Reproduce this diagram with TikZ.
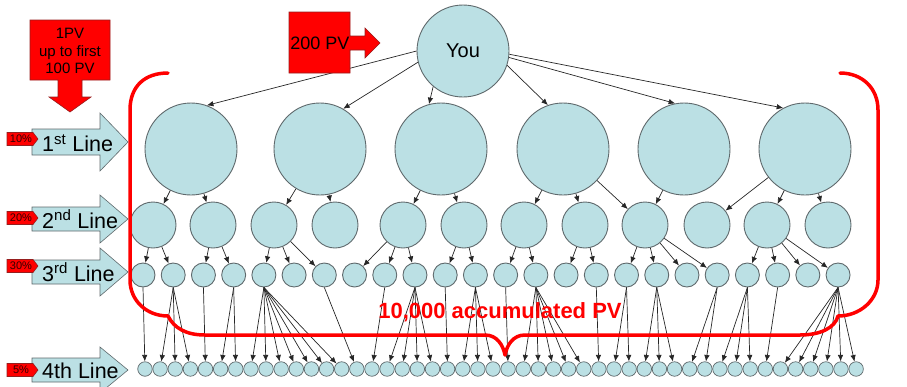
\documentclass[tikz,border=0pt]{standalone}
\usepackage{fontspec}
\setmainfont{Liberation Sans}
\usetikzlibrary{arrows.meta}
\definecolor{nodefill}{RGB}{187,224,228}
\definecolor{nodeline}{RGB}{95,105,108}
\definecolor{pvred}{RGB}{255,0,0}
\definecolor{calloutline}{RGB}{150,30,30}

% level label arrow: #1 centre y, #2 half height of head, #3 half height of shaft
\newcommand{\lvlarrow}[3]{%
  \filldraw[levelarrow] (32,{#1-#3}) -- (100,{#1-#3}) -- (100,{#1-#2}) -- (128,#1)
    -- (100,{#1+#2}) -- (100,{#1+#3}) -- (32,{#1+#3}) -- cycle;}
% small red percentage tag: #1 centre y
\newcommand{\pcttag}[1]{%
  \filldraw[redshape] (7,{#1-6.5}) -- (33,{#1-6.5}) -- (38,#1) -- (33,{#1+6.5}) -- (7,{#1+6.5}) -- cycle;}

\begin{document}
\begin{tikzpicture}[x=1pt,y=-1pt,
  member/.style={circle, fill=nodefill, draw=nodeline, line width=0.9pt, inner sep=0pt},
  conn/.style={draw=black!85, line width=0.7pt, -{Latex[length=6.5pt,width=5.5pt]}},
  levelarrow/.style={fill=nodefill, draw=nodeline, line width=0.6pt},
  redshape/.style={fill=pvred, draw=calloutline, line width=0.6pt},
  brace/.style={draw=pvred, line width=3.5pt, line cap=round, line join=round},
  linetext/.style={anchor=west, inner sep=0pt, font=\fontsize{21.5}{24}\selectfont},
  pcttext/.style={inner sep=0pt, text=black!80!red, font=\fontsize{11}{12}\selectfont}]

\useasboundingbox (0,0) rectangle (907,386);

% ---------- the members ----------
\node[member, minimum size=92pt] (you) at (463,51) {\fontsize{20}{24}\selectfont You};

\foreach \x [count=\i] in {191,320,441,563,684,805}
  \node[member, minimum size=92pt] (c\i) at (\x,149) {};

\foreach \x [count=\i] in {153,213,274,335,403,464,524,585,645,707,767,828}
  \node[member, minimum size=46pt] (d\i) at (\x,225) {};

\foreach \i in {1,...,24}
  \node[member, minimum size=24pt] (e\i) at ({143+30.22*(\i-1)},275) {};

\foreach \i in {1,...,48}
  \node[member, minimum size=14.5pt, line width=0.7pt] (f\i) at ({145+15.13*(\i-1)},369) {};

% ---------- sponsorship links ----------
\draw[conn] (you.180) -- (c1.70);
\draw[conn] (you.194) -- (c2.60);
\draw[conn] (you.230) -- (c3.105);
\draw[conn] (you.342) -- (c4.109);
\draw[conn] (you.352) -- (c5.101);
\draw[conn] (you.356) -- (c6.118);

\foreach \a/\b in {1/1,1/2,2/3,2/4,3/5,3/6,4/7,4/8,4/9,5/9,6/10,6/11,6/12}
  \draw[conn] (c\a) -- (d\b);

\foreach \a/\b in {1/1,1/2,2/3,2/4,3/5,3/6,3/7,5/8,5/9,5/10,6/11,6/12,7/13,7/14,
                   8/15,8/16,9/17,9/18,9/19,9/20,11/21,11/22,11/23,11/24}
  \draw[conn] (d\a) -- (e\b);

\foreach \a/\b in {1/1,2/2,2/3,2/4,3/5,4/6,4/7,5/8,5/9,5/10,5/11,5/12,5/13,5/14,
                   7/15,9/16,10/17,10/18,10/19,10/20,11/21,12/22,12/23,12/24,13/25,
                   14/26,14/27,14/28,14/29,14/30,16/31,17/32,17/33,18/34,18/35,18/36,
                   20/37,20/38,21/39,21/40,21/41,22/42,24/43,24/44,24/45,24/46,24/47,24/48}
  \draw[conn] (e\a.south) -- (f\b);

% ---------- brace round the first three lines ----------
\draw[brace] (168,73) .. controls (145,73) and (130,86) .. (130,110)
  -- (130,280) .. controls (130,300) and (146,316) .. (168,316)
  .. controls (174,328) and (186,335) .. (205,335)
  -- (485,335) .. controls (497,335) and (503,345) .. (505,355)
  .. controls (507,345) and (513,335) .. (525,335)
  -- (800,335) .. controls (820,335) and (835,328) .. (838,316)
  .. controls (860,316) and (878,300) .. (878,280)
  -- (878,110) .. controls (878,88) and (862,73) .. (840,73);

\node[inner sep=0pt, text=pvred, font=\bfseries\fontsize{22}{26}\selectfont]
  (accum) at (500,312) {10,000 accumulated PV};

% ---------- callouts ----------
\filldraw[redshape] (289,12) -- (350,12) -- (350,36) -- (365,36) -- (365,28) -- (380,43)
  -- (365,58) -- (365,50) -- (350,50) -- (350,73) -- (289,73) -- cycle;
\node[inner sep=0pt, font=\fontsize{18}{20}\selectfont] (bonus) at (320,43) {200 PV};

\filldraw[redshape] (30,20) -- (110,20) -- (110,80) -- (82,80) -- (82,97) -- (91,97)
  -- (70,112) -- (49,97) -- (58,97) -- (58,80) -- (30,80) -- cycle;
\node[inner sep=0pt, align=center, font=\fontsize{15}{17.5}\selectfont] (firstpv) at (70,51)
  {1PV\\up to first\\100 PV};

% ---------- level labels ----------
\lvlarrow{142}{29}{13}
\lvlarrow{219}{24}{12}
\lvlarrow{272}{24}{12}
\lvlarrow{370}{23}{12}

\pcttag{139}
\pcttag{218}
\pcttag{266}
\pcttag{370}

\node[linetext] (line1) at (42,143) {1\textsuperscript{st} Line};
\node[linetext] (line2) at (42,219) {2\textsuperscript{nd} Line};
\node[linetext] (line3) at (42,272) {3\textsuperscript{rd} Line};
\node[linetext] (line4) at (42,371) {4th Line};

\node[pcttext] (pct1) at (21,139) {10\%};
\node[pcttext] (pct2) at (21,218) {20\%};
\node[pcttext] (pct3) at (21,266) {30\%};
\node[pcttext] (pct4) at (21,370) {5\%};

\end{tikzpicture}
\end{document}
